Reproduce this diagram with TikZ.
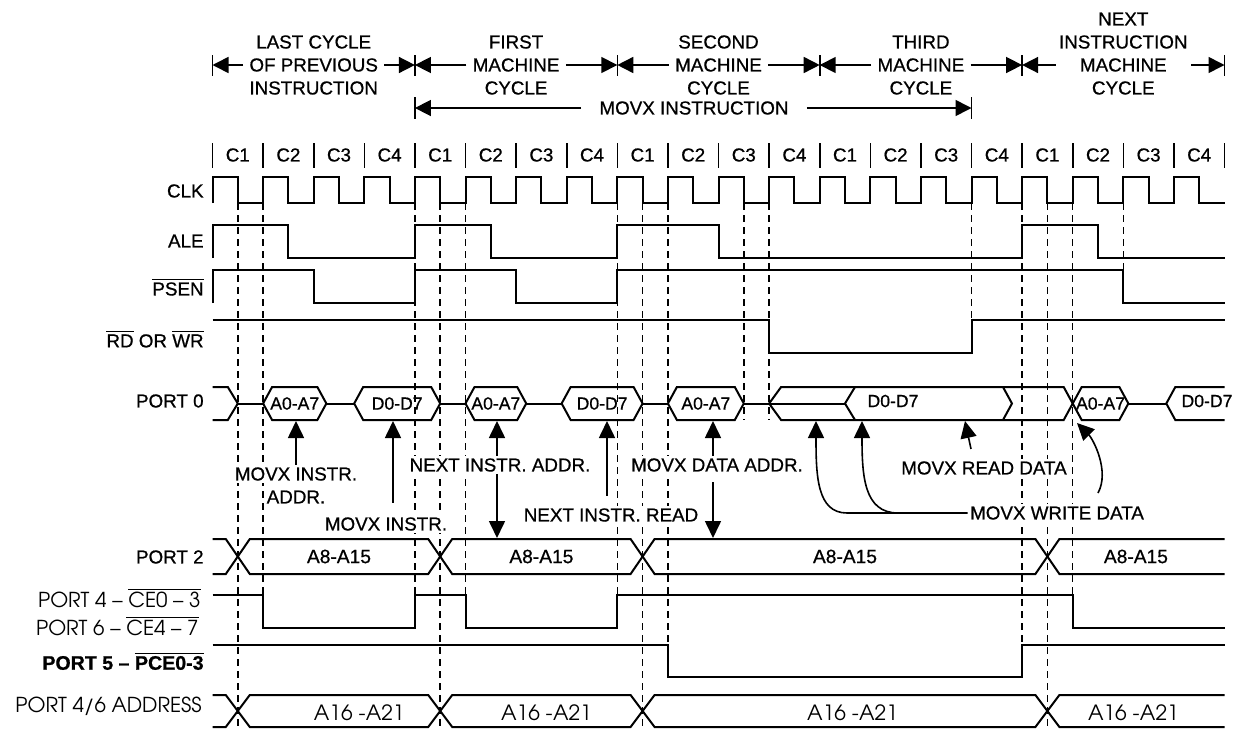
\documentclass[tikz,border=0pt]{standalone}
\usepackage{fontspec}
\setmainfont{Liberation Sans}[FakeBold=0.7]
\newfontfamily\gothic{TeX Gyre Adventor}
\usetikzlibrary{arrows.meta,positioning,calc}

\newcommand{\xorg}{212.5}
\newcommand{\stw}{50.6}
\newcommand{\tx}[1]{\xorg+(#1)*\stw}
\newcommand{\ovl}[1]{\ensuremath{\overline{\mbox{#1}}}}

\tikzset{
  sig/.style={line width=1pt},
  guide/.style={line width=0.75pt, dash pattern=on 3.5pt off 2.5pt},
  tick/.style={line width=0.8pt},
  hdr/.style={font=\fontsize{9.4}{11}\selectfont, inner sep=3pt},
  sname/.style={anchor=east, inner sep=0pt, font=\fontsize{9.4}{11}\selectfont},
  gname/.style={anchor=east, inner sep=0pt, font=\gothic\fontsize{10.3}{12}\selectfont},
  note/.style={fill=white, inner sep=1pt, font=\fontsize{9.4}{11}\selectfont},
  hexl/.style={font=\fontsize{8.8}{10}\selectfont},
  busl/.style={font=\fontsize{9.6}{11}\selectfont},
  addrl/.style={font=\gothic\fontsize{10.5}{12}\selectfont},
  ptr/.style={line width=0.8pt, -{Triangle[length=8.5pt,width=8pt]}},
  hptr/.style={line width=0.8pt, -{Triangle[length=8pt,width=8pt]}},
}

\begin{document}
\begin{tikzpicture}[x=0.5pt,y=-0.5pt]
\useasboundingbox (0,0) rectangle (1233,729);

% machine cycles
\foreach \k in {0,4,...,20} {
  \coordinate (b\k) at ({\tx{\k}},65);
  \draw[tick] ({\tx{\k}},55) -- ({\tx{\k}},76);
}
\node[hdr] (lc1) at ({\tx{2}},42) {LAST CYCLE};
\node[hdr] (lc2) at ({\tx{2}},65) {OF PREVIOUS};
\node[hdr] (lc3) at ({\tx{2}},88) {INSTRUCTION};
\node[hdr] (fc1) at ({\tx{6}},42) {FIRST};
\node[hdr] (fc2) at ({\tx{6}},65) {MACHINE};
\node[hdr] (fc3) at ({\tx{6}},88) {CYCLE};
\node[hdr] (sc1) at ({\tx{10}},42) {SECOND};
\node[hdr] (sc2) at ({\tx{10}},65) {MACHINE};
\node[hdr] (sc3) at ({\tx{10}},88) {CYCLE};
\node[hdr] (tc1) at ({\tx{14}},42) {THIRD};
\node[hdr] (tc2) at ({\tx{14}},65) {MACHINE};
\node[hdr] (tc3) at ({\tx{14}},88) {CYCLE};
\node[hdr] (nc0) at ({\tx{18}},19) {NEXT};
\node[hdr] (nc1) at ({\tx{18}},42) {INSTRUCTION};
\node[hdr, inner xsep=12pt] (nc2) at ({\tx{18}},65) {MACHINE};
\node[hdr] (nc3) at ({\tx{18}},88) {CYCLE};
\draw[hptr] (lc2.west) -- (b0);
\draw[hptr] (lc2.east) -- (b4);
\draw[hptr] (fc2.west) -- (b4);
\draw[hptr] (fc2.east) -- (b8);
\draw[hptr] (sc2.west) -- (b8);
\draw[hptr] (sc2.east) -- (b12);
\draw[hptr] (tc2.west) -- (b12);
\draw[hptr] (tc2.east) -- (b16);
\draw[hptr] (nc2.west) -- (b16);
\draw[hptr] (nc2.east) -- (b20);

\coordinate (m4) at ({\tx{4}},108);
\coordinate (m15) at ({\tx{15}},108);
\draw[tick] ({\tx{4}},97) -- ({\tx{4}},119);
\draw[tick] ({\tx{15}},97) -- ({\tx{15}},119);
\node[hdr, inner xsep=9pt] (movx) at (694,108) {MOVX INSTRUCTION};
\draw[hptr] (movx.west) -- (m4);
\draw[hptr] (movx.east) -- (m15);

% states
\foreach \k in {0,...,20} \draw[tick] ({\tx{\k}},143) -- ({\tx{\k}},168);
\foreach \k in {0,...,19} {
  \pgfmathtruncatemacro{\cn}{mod(\k,4)+1}
  \node[hdr] at ({\tx{\k+0.5}},155) {C\cn};
}

% guide lines
\foreach \k/\e in {0.5/729, 1/595, 4/595, 4.5/729, 5/595, 8/595, 8.5/729, 9/645,
                   10.5/420, 11/420, 15/320, 16/645, 16.5/729, 17/595, 18/270}
  \draw[guide] ({\tx{\k}},203) -- ({\tx{\k}},\e);

% signal names
\node[sname] (clk) at (204,191) {CLK};
\node[sname] (ale) at (204,241) {ALE};
\node[sname] (psen) at (204,287) {\ovl{PSEN}};
\node[sname] (rdwr) at (204,339) {\ovl{RD} OR \ovl{WR}};
\node[sname] (p0) at (204,401) {PORT 0};
\node[sname] (p2) at (204,557) {PORT 2};
\node[gname] (p4) at (201,598) {PORT 4 – \ovl{CE0 – 3}};
\node[gname] (p6) at (199,626) {PORT 6 – \ovl{CE4 – 7}};
\node[sname, font=\bfseries\fontsize{9.8}{11}\selectfont] (p5) at (204,661) {PORT 5 – \ovl{PCE0-3}};
\node[gname] (p46) at (202,706) {PORT 4/6 ADDRESS};

% CLK
\draw[sig] ({\tx{0}},203) foreach \k in {0,...,19} {
  -- ({\tx{\k}},177) -- ({\tx{\k+0.5}},177) -- ({\tx{\k+0.5}},203) -- ({\tx{\k+1}},203) };
% ALE
\draw[sig] ({\tx{0}},258) -- ({\tx{0}},225) -- ({\tx{1.5}},225) -- ({\tx{1.5}},258)
  -- ({\tx{4}},258) -- ({\tx{4}},225) -- ({\tx{5.5}},225) -- ({\tx{5.5}},258)
  -- ({\tx{8}},258) -- ({\tx{8}},225) -- ({\tx{10}},225) -- ({\tx{10}},258)
  -- ({\tx{16}},258) -- ({\tx{16}},225) -- ({\tx{17.5}},225) -- ({\tx{17.5}},258) -- ({\tx{20}},258);
% PSEN
\draw[sig] ({\tx{0}},303) -- ({\tx{0}},270) -- ({\tx{2}},270) -- ({\tx{2}},303)
  -- ({\tx{4}},303) -- ({\tx{4}},270) -- ({\tx{6}},270) -- ({\tx{6}},303)
  -- ({\tx{8}},303) -- ({\tx{8}},270) -- ({\tx{18}},270) -- ({\tx{18}},303) -- ({\tx{20}},303);
% RD / WR
\draw[sig] ({\tx{0}},320) -- ({\tx{11}},320) -- ({\tx{11}},353) -- ({\tx{15}},353)
  -- ({\tx{15}},320) -- ({\tx{20}},320);

% PORT 0
\draw[sig] ({\tx{0}},387) -- ({\tx{0.5}-10},387) -- ({\tx{0.5}},403.5) -- ({\tx{0.5}-10},420) -- ({\tx{0}},420);
\foreach \a/\b in {0.5/1, 2.25/2.8, 4.5/5, 6.2/6.9, 8.5/9, 10.5/11, 11/12.5, 18.1/18.85}
  \draw[sig] ({\tx{\a}},403.5) -- ({\tx{\b}},403.5);
\foreach \a/\b/\t in {1/2.25/A0-A7, 2.8/4.5/D0-D7, 5/6.2/A0-A7, 6.9/8.5/D0-D7, 9/10.5/A0-A7, 17/18.1/A0-A7} {
  \draw[sig] ({\tx{\a}},403.5) -- ({\tx{\a}+9},387) -- ({\tx{\b}-9},387) -- ({\tx{\b}},403.5)
    -- ({\tx{\b}-9},420) -- ({\tx{\a}+9},420) -- cycle;
  \node[hexl] at ({\tx{(\a+\b)/2}},403.5) {\t};
}
\draw[sig] ({\tx{11}},403.5) -- ({\tx{11}+12},387) -- ({\tx{17}-9},387) -- ({\tx{17}},403.5)
  -- ({\tx{17}-9},420) -- ({\tx{11}+12},420) -- cycle;
\draw[sig] ({\tx{12.5}+10},387) -- ({\tx{12.5}},403.5) -- ({\tx{12.5}+10},420);
\draw[sig] ({\tx{15.8}-9},387) -- ({\tx{15.8}},403.5) -- ({\tx{15.8}-9},420);
\node[hexl] at (893,401) {D0-D7};
\draw[sig] ({\tx{20}},387) -- ({\tx{18.85}+9},387) -- ({\tx{18.85}},403.5) -- ({\tx{18.85}+9},420) -- ({\tx{20}},420);
\node[hexl] at (1207,401) {D0-D7};

% PORT 2
\draw[sig] ({\tx{0}},539) -- ({\tx{0.5}-12},539) -- ({\tx{0.5}},556.5) -- ({\tx{0.5}-12},574) -- ({\tx{0}},574);
\foreach \a/\b in {0.5/4.5, 4.5/8.5, 8.5/16.5}
  \draw[sig] ({\tx{\a}},556.5) -- ({\tx{\a}+12},539) -- ({\tx{\b}-12},539) -- ({\tx{\b}},556.5)
    -- ({\tx{\b}-12},574) -- ({\tx{\a}+12},574) -- cycle;
\draw[sig] ({\tx{20}},539) -- ({\tx{16.5}+12},539) -- ({\tx{16.5}},556.5) -- ({\tx{16.5}+12},574) -- ({\tx{20}},574);
\foreach \m in {2.5,6.5,12.5,18.25} \node[busl] at ({\tx{\m}},556.5) {A8-A15};

% PORT 4 / 6 chip enables
\draw[sig] ({\tx{0}},595) -- ({\tx{1}},595) -- ({\tx{1}},628) -- ({\tx{4}},628) -- ({\tx{4}},595)
  -- ({\tx{5}},595) -- ({\tx{5}},628) -- ({\tx{8}},628) -- ({\tx{8}},595)
  -- ({\tx{17}},595) -- ({\tx{17}},628) -- ({\tx{20}},628);
% PORT 5
\draw[sig] ({\tx{0}},645) -- ({\tx{9}},645) -- ({\tx{9}},677) -- ({\tx{16}},677) -- ({\tx{16}},645) -- ({\tx{20}},645);

% PORT 4/6 address
\draw[sig] ({\tx{0}},695) -- ({\tx{0.5}-12},695) -- ({\tx{0.5}},711) -- ({\tx{0.5}-12},727) -- ({\tx{0}},727);
\foreach \a/\b in {0.5/4.5, 4.5/8.5, 8.5/16.5}
  \draw[sig] ({\tx{\a}},711) -- ({\tx{\a}+12},695) -- ({\tx{\b}-12},695) -- ({\tx{\b}},711)
    -- ({\tx{\b}-12},727) -- ({\tx{\a}+12},727) -- cycle;
\draw[sig] ({\tx{20}},695) -- ({\tx{16.5}+12},695) -- ({\tx{16.5}},711) -- ({\tx{16.5}+12},727) -- ({\tx{20}},727);
\foreach \m in {2.9,6.6,12.65,18.2} \node[addrl] at ({\tx{\m}},713) {A16 -A21};

% pointers
\coordinate (t1) at (296,421);
\coordinate (t2) at (393,421);
\coordinate (t3) at (497,421);
\coordinate (t4) at (607,421);
\coordinate (t5) at (713,421);
\coordinate (t6) at (965,421);
\coordinate (t7) at (816,421);
\coordinate (t8) at (862,421);
\coordinate (t9) at (1077,423);
\coordinate (d3) at (497,538);
\coordinate (d5) at (713,538);
\coordinate (w1) at (847,513);
\coordinate (w2) at (898,513);
\coordinate (w3) at (1098,493);

\node[note] (mia) at (296,474) {MOVX INSTR.};
\node[note] (mib) at (296,497) {ADDR.};
\node[note] (mi2) at (386,524) {MOVX INSTR.};
\node[note] (nia) at (500,465) {NEXT INSTR. ADDR.};
\node[note] (nir) at (611,515) {NEXT INSTR. READ};
\node[note] (mda) at (717,465) {MOVX DATA ADDR.};
\node[note] (mrd) at (984,468) {MOVX READ DATA};
\node[note] (mwd) at (1057,513) {MOVX WRITE DATA};

\draw[ptr] (mia.north) -- (t1);
\draw[ptr] ($(t2 |- mi2.north)+(0,-12)$) -- (t2);
\draw[ptr] (t3 |- nia.north) -- (t3);
\draw[ptr] (nia.south -| d3) -- (d3);
\draw[ptr] ($(t4 |- nir.north)+(0,-10)$) -- (t4);
\draw[ptr] (t5 |- mda.north) -- (t5);
\draw[ptr] ($(mda.south -| d5)+(0,8)$) -- (d5);
\draw[ptr] ($(mrd.north)+(-13,-10)$) -- (t6);
\draw[ptr] (mwd.west) -- (w1) .. controls +(-30,0) and +(0,55) .. (t7);
\draw[ptr] (w2) .. controls +(-34,0) and +(0,55) .. (t8);
\draw[ptr] (w3) .. controls +(12,-22) and +(16,16) .. (t9);
\end{tikzpicture}
\end{document}
